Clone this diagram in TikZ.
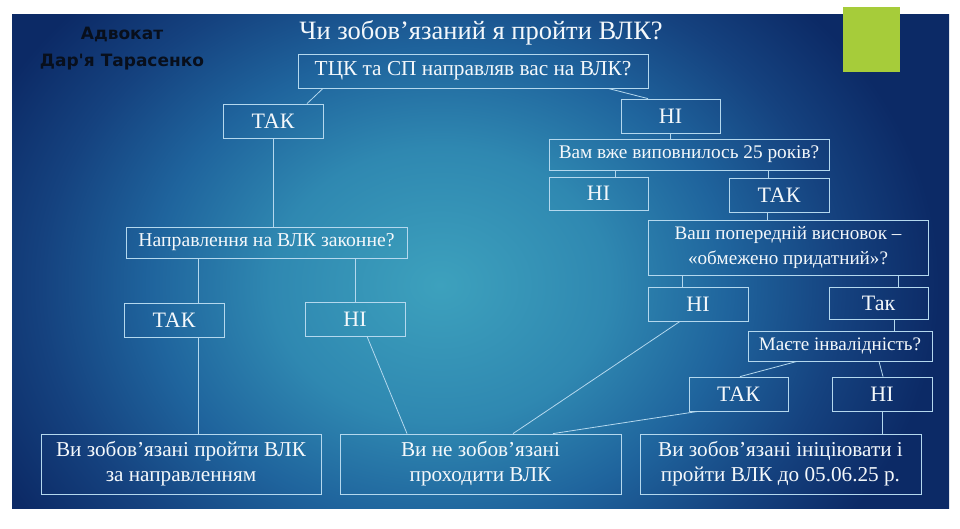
\documentclass[tikz,border=0pt]{standalone}
\usepackage{fontspec}
\setmainfont{Liberation Serif}
\newfontfamily\authfont{DejaVu Sans}
\definecolor{bg0}{HTML}{3DA1BD}
\definecolor{bg1}{HTML}{2F88B1}
\definecolor{bg2}{HTML}{1F649D}
\definecolor{bg3}{HTML}{15427F}
\definecolor{bg4}{HTML}{0C2A66}
\definecolor{lineclr}{HTML}{B4D8EE}
\definecolor{txtclr}{HTML}{F4F8FB}
\definecolor{greensq}{HTML}{A6CC3A}
\definecolor{authclr}{HTML}{080F1C}
\pgfdeclareradialshading{slidebg}{\pgfpoint{0bp}{0bp}}{color(0bp)=(bg0); color(6.6bp)=(bg1); color(11.3bp)=(bg2); color(15.6bp)=(bg3); color(19.5bp)=(bg4); color(50bp)=(bg4)}
\begin{document}
\begin{tikzpicture}[x=1pt,y=-1pt,
  box/.style={draw=lineclr, line width=0.8pt, text=txtclr, inner sep=0pt, align=center, font=\fontsize{19.3}{25}\selectfont},
  yn/.style={box, font=\fontsize{22}{25}\selectfont},
  res/.style={box, minimum height=60, font=\fontsize{21.2}{25}\selectfont},
  conn/.style={draw=lineclr, line width=0.8pt}]
\useasboundingbox (0,0) rectangle (960,529);
\fill[white] (0,0) rectangle (960,529);
\begin{scope}
\clip (12,15) rectangle (949,508);
\fill[bg4] (12,15) rectangle (949,508);
\shade[shading=slidebg] (440,285) ellipse (640 and 520);
\end{scope}
\fill[greensq] (843,7) rectangle (900,72);

\node[font=\authfont\bfseries\fontsize{17}{27}\selectfont, text=authclr, align=center] (auth) at (122,48.5) {Адвокат\\Дар'я Тарасенко};
\node[font=\fontsize{26.5}{28}\selectfont, text=txtclr] (title) at (481,33) {Чи зобов’язаний я пройти ВЛК?};

\node[box, minimum width=350, minimum height=34, font=\fontsize{21.3}{25}\selectfont] (tck) at (473,71) {ТЦК та СП направляв вас на ВЛК?};
\node[yn, minimum width=100, minimum height=34] (tak1) at (273,121) {ТАК};
\node[box, minimum width=281, minimum height=31, font=\fontsize{19.7}{25}\selectfont] (napr) at (266.5,242.5) {Направлення на ВЛК законне?};
\node[yn, minimum width=99, minimum height=34] (ni1) at (670.5,116) {НІ};
\node[box, minimum width=280, minimum height=31] (vam) at (689,154.5) {Вам вже виповнилось 25 років?};
\node[yn, minimum width=99, minimum height=33] (ni2) at (598.5,193.5) {НІ};
\node[yn, minimum width=100, minimum height=34] (tak2) at (779,195) {ТАК};
\node[box, minimum width=280, minimum height=55, font=\fontsize{19.1}{25}\selectfont] (vash) at (788,247.5) {Ваш попередній висновок –\\«обмежено придатний»?};
\node[yn, minimum width=100, minimum height=34] (tak3) at (174,320) {ТАК};
\node[yn, minimum width=100, minimum height=34] (ni3) at (355,319) {НІ};
\node[yn, minimum width=100, minimum height=34] (ni4) at (698,304) {НІ};
\node[yn, minimum width=99, minimum height=32] (tak4) at (878.5,303) {Так};
\node[box, minimum width=184, minimum height=30, font=\fontsize{19.1}{25}\selectfont] (mayete) at (840,346) {Маєте інвалідність?};
\node[yn, minimum width=99, minimum height=34] (tak5) at (738.5,394) {ТАК};
\node[yn, minimum width=100, minimum height=34] (ni5) at (882,394) {НІ};
\node[res, minimum width=280] (res1) at (181,464) {Ви зобов’язані пройти ВЛК\\за направленням};
\node[res, minimum width=281] (res2) at (480.5,464) {Ви не зобов’язані\\проходити ВЛК};
\node[res, minimum width=281] (res3) at (780.5,464) {Ви зобов’язані ініціювати і\\пройти ВЛК до 05.06.25 р.};

\draw[conn] ([xshift=-150]tck.south) -- ([xshift=34]tak1.north);
\draw[conn] ([xshift=135]tck.south) -- ([xshift=-22.5]ni1.north);
\draw[conn] (tak1.south) -- (tak1.south |- napr.north);
\draw[conn] (ni1.south) -- (ni1.south |- vam.north);
\draw[conn] ([xshift=16.5]ni2.north |- vam.south) -- ([xshift=16.5]ni2.north);
\draw[conn] ([xshift=-11]tak2.north |- vam.south) -- ([xshift=-11]tak2.north);
\draw[conn] ([xshift=-12]tak2.south) -- ([xshift=-12]tak2.south |- vash.north);
\draw[conn] ([xshift=24]tak3.north |- napr.south) -- ([xshift=24]tak3.north);
\draw[conn] (ni3.north |- napr.south) -- (ni3.north);
\draw[conn] ([xshift=24]tak3.south) -- ([xshift=24]tak3.south |- res1.north);
\draw[conn] ([xshift=12]ni3.south) -- ([xshift=-73.5]res2.north);
\draw[conn] ([xshift=-16]ni4.north |- vash.south) -- ([xshift=-16]ni4.north);
\draw[conn] ([xshift=19.5]tak4.north |- vash.south) -- ([xshift=19.5]tak4.north);
\draw[conn] ([xshift=-18]ni4.south) -- ([xshift=32.5]res2.north);
\draw[conn] ([xshift=15.5]tak4.south) -- ([xshift=15.5]tak4.south |- mayete.north);
\draw[conn] ([xshift=-43]mayete.south) -- ([xshift=1.5]tak5.north);
\draw[conn] ([xshift=39]mayete.south) -- ([xshift=1]ni5.north);
\draw[conn] ([xshift=-40.5]tak5.south) -- ([xshift=72.5]res2.north);
\draw[conn] (ni5.south) -- (ni5.south |- res3.north);
\end{tikzpicture}
\end{document}
